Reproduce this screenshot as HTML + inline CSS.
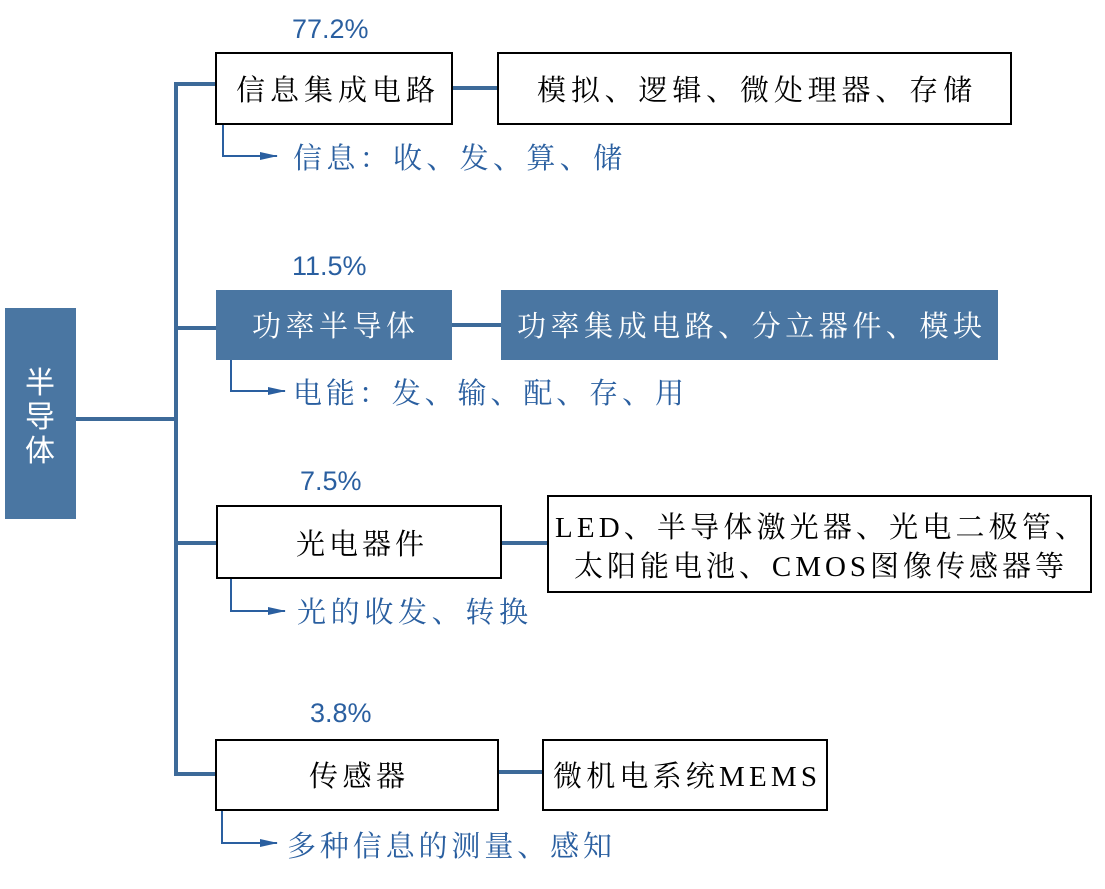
<!DOCTYPE html>
<html><head><meta charset="utf-8"><style>
body{margin:0;background:#fff}
svg text{font-family:"Liberation Serif","Noto Serif CJK SC",serif}
.s{font-family:"Liberation Sans","Noto Sans CJK SC",sans-serif !important}
</style></head><body>
<svg width="1105" height="884" xmlns="http://www.w3.org/2000/svg">
<defs><marker id="a" markerWidth="18" markerHeight="8" refX="17" refY="4" orient="auto" markerUnits="userSpaceOnUse"><path d="M0,0 L18,4 L0,8 Z" fill="#2a5fa0"/></marker></defs>
<g stroke="#3d6a99" stroke-width="4" fill="none">
<path d="M76 419 H176 M176 82 V776 M174 84 H216 M174 328 H216 M174 543 H217 M174 774 H216"/>
<path d="M452 88 H498 M452 325 H501 M501 543 H548 M498 772 H543"/>
</g>
<g stroke="#2a5fa0" stroke-width="2" fill="none">
<path d="M223 124 V156 H277" marker-end="url(#a)"/>
<path d="M231 360 V391 H285" marker-end="url(#a)"/>
<path d="M231 578 V611 H285" marker-end="url(#a)"/>
<path d="M222 810 V843 H277" marker-end="url(#a)"/>
</g>
<rect x="5" y="308" width="71" height="211" fill="#4a76a2"/>
<text class="s" x="40" y="393" fill="#fff" font-size="30" text-anchor="middle">半</text>
<text class="s" x="40" y="427" fill="#fff" font-size="30" text-anchor="middle">导</text>
<text class="s" x="40" y="461" fill="#fff" font-size="30" text-anchor="middle">体</text>
<g stroke="#000" stroke-width="2" fill="#fff">
<rect x="216" y="53" width="236" height="71"/>
<rect x="498" y="53" width="513" height="71"/>
<rect x="217" y="506" width="284" height="72"/>
<rect x="548" y="496" width="543" height="96"/>
<rect x="216" y="740" width="282" height="70"/>
<rect x="543" y="740" width="284" height="70"/>
</g>
<rect x="216" y="290" width="236" height="70" fill="#4a76a2"/>
<rect x="501" y="290" width="497" height="70" fill="#4a76a2"/>
<g font-size="29" lengthAdjust="spacing">
<text x="236" y="100" textLength="199">信息集成电路</text>
<text x="537" y="100" textLength="435">模拟、逻辑、微处理器、存储</text>
<text x="252" y="336" textLength="163" fill="#fff">功率半导体</text>
<text x="517" y="336" textLength="465" fill="#fff">功率集成电路、分立器件、模块</text>
<text x="296" y="554" textLength="128">光电器件</text>
<text x="555" y="537" textLength="529">LED、半导体激光器、光电二极管、</text>
<text x="574" y="576" textLength="490">太阳能电池、CMOS图像传感器等</text>
<text x="309" y="786" textLength="96">传感器</text>
<text x="553" y="786" textLength="264">微机电系统MEMS</text>
</g>
<g font-size="29" fill="#2a5fa0">
<text x="293" y="168" textLength="329">信息：收、发、算、储</text>
<text x="293" y="403" textLength="391">电能：发、输、配、存、用</text>
<text x="297" y="622" textLength="231">光的收发、转换</text>
<text x="287" y="856" textLength="325">多种信息的测量、感知</text>
</g>
<g font-size="27" fill="#2a5fa0">
<text class="s" x="292" y="38">77.2%</text>
<text class="s" x="292" y="275">11.5%</text>
<text class="s" x="300" y="490">7.5%</text>
<text class="s" x="310" y="722">3.8%</text>
</g>
</svg>
</body></html>
